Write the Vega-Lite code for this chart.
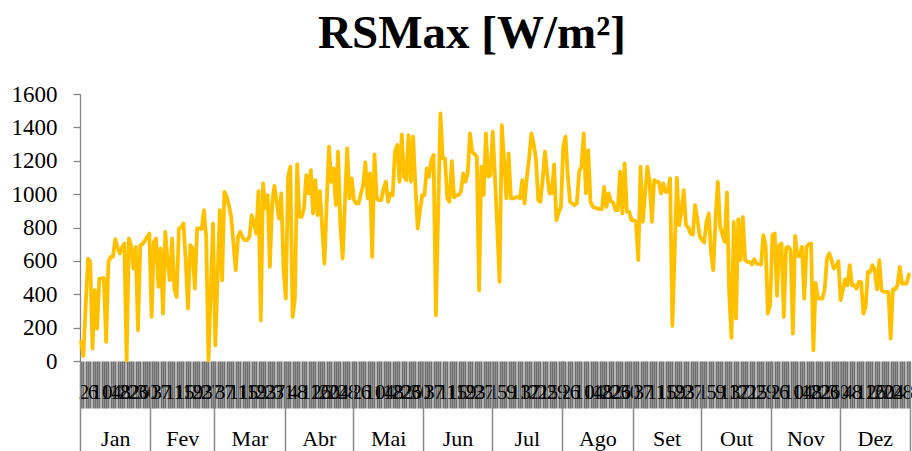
{
  "$schema": "https://vega.github.io/schema/vega-lite/v6.json",
  "width": 830,
  "height": 267,
  "autosize": {"type": "none"},
  "padding": {"left": 80, "top": 94, "right": 2, "bottom": 90},
  "background": "white",
  "config": {"view": {"stroke": null}, "font": "Liberation Serif"},
  "title": {"text": "RSMax [W/m²]", "font": "Liberation Serif", "fontSize": 47, "fontWeight": "bold", "color": "#000000", "anchor": "middle", "dx": -23, "offset": -12, "baseline": "alphabetic"},
  "data": {"values": [
    {"d":1,"v":114},{"d":2,"v":30},{"d":3,"v":330},{"d":4,"v":614},{"d":5,"v":594},{"d":6,"v":74},{"d":7,"v":424},{"d":8,"v":194},{"d":9,"v":494},{"d":10,"v":494},
    {"d":11,"v":498},{"d":12,"v":114},{"d":13,"v":594},{"d":14,"v":624},{"d":15,"v":624},{"d":16,"v":730},{"d":17,"v":680},{"d":18,"v":644},{"d":19,"v":680},{"d":20,"v":704},
    {"d":21,"v":4},{"d":22,"v":734},{"d":23,"v":690},{"d":24,"v":554},{"d":25,"v":684},{"d":26,"v":184},{"d":27,"v":694},{"d":28,"v":700},{"d":29,"v":720},{"d":30,"v":744},
    {"d":31,"v":764},{"d":32,"v":264},{"d":33,"v":714},{"d":34,"v":734},{"d":35,"v":444},{"d":36,"v":674},{"d":37,"v":284},{"d":38,"v":774},{"d":39,"v":600},{"d":40,"v":484},
    {"d":41,"v":734},{"d":42,"v":434},{"d":43,"v":384},{"d":44,"v":794},{"d":45,"v":800},{"d":46,"v":824},{"d":47,"v":600},{"d":48,"v":314},{"d":49,"v":694},{"d":50,"v":674},
    {"d":51,"v":434},{"d":52,"v":794},{"d":53,"v":794},{"d":54,"v":790},{"d":55,"v":904},{"d":56,"v":744},{"d":57,"v":4},{"d":58,"v":420},{"d":59,"v":824},{"d":60,"v":94},
    {"d":61,"v":500},{"d":62,"v":904},{"d":63,"v":484},{"d":64,"v":1014},{"d":65,"v":984},{"d":66,"v":930},{"d":67,"v":864},{"d":68,"v":700},{"d":69,"v":544},{"d":70,"v":744},
    {"d":71,"v":774},{"d":72,"v":740},{"d":73,"v":724},{"d":74,"v":724},{"d":75,"v":744},{"d":76,"v":874},{"d":77,"v":824},{"d":78,"v":764},{"d":79,"v":1018},{"d":80,"v":244},
    {"d":81,"v":1064},{"d":82,"v":914},{"d":83,"v":994},{"d":84,"v":564},{"d":85,"v":944},{"d":86,"v":1050},{"d":87,"v":950},{"d":88,"v":854},{"d":89,"v":1004},{"d":90,"v":554},
    {"d":91,"v":374},{"d":92,"v":1104},{"d":93,"v":1164},{"d":94,"v":264},{"d":95,"v":374},{"d":96,"v":1178},{"d":97,"v":864},{"d":98,"v":864},{"d":99,"v":914},{"d":100,"v":1114},
    {"d":101,"v":1004},{"d":102,"v":1144},{"d":103,"v":884},{"d":104,"v":1084},{"d":105,"v":874},{"d":106,"v":1018},{"d":107,"v":800},{"d":108,"v":584},{"d":109,"v":950},{"d":110,"v":1284},
    {"d":111,"v":1074},{"d":112,"v":1154},{"d":113,"v":934},{"d":114,"v":1254},{"d":115,"v":814},{"d":116,"v":614},{"d":117,"v":950},{"d":118,"v":1274},{"d":119,"v":974},{"d":120,"v":1094},
    {"d":121,"v":964},{"d":122,"v":944},{"d":123,"v":944},{"d":124,"v":1000},{"d":125,"v":1054},{"d":126,"v":1190},{"d":127,"v":974},{"d":128,"v":1124},{"d":129,"v":624},{"d":130,"v":1238},
    {"d":131,"v":974},{"d":132,"v":964},{"d":133,"v":964},{"d":134,"v":1034},{"d":135,"v":1074},{"d":136,"v":954},{"d":137,"v":1004},{"d":138,"v":994},{"d":139,"v":1254},{"d":140,"v":1294},
    {"d":141,"v":1074},{"d":142,"v":1358},{"d":143,"v":1104},{"d":144,"v":1084},{"d":145,"v":1354},{"d":146,"v":1074},{"d":147,"v":1344},{"d":148,"v":1050},{"d":149,"v":794},{"d":150,"v":900},
    {"d":151,"v":994},{"d":152,"v":994},{"d":153,"v":1154},{"d":154,"v":1104},{"d":155,"v":1204},{"d":156,"v":1234},{"d":157,"v":274},{"d":158,"v":880},{"d":159,"v":1484},{"d":160,"v":1214},
    {"d":161,"v":1214},{"d":162,"v":974},{"d":163,"v":954},{"d":164,"v":1198},{"d":165,"v":980},{"d":166,"v":994},{"d":167,"v":994},{"d":168,"v":1014},{"d":169,"v":1124},{"d":170,"v":1074},
    {"d":171,"v":1124},{"d":172,"v":1364},{"d":173,"v":1254},{"d":174,"v":1240},{"d":175,"v":1224},{"d":176,"v":424},{"d":177,"v":1164},{"d":178,"v":994},{"d":179,"v":1364},{"d":180,"v":1104},
    {"d":181,"v":1114},{"d":182,"v":1374},{"d":183,"v":1100},{"d":184,"v":800},{"d":185,"v":474},{"d":186,"v":1414},{"d":187,"v":1200},{"d":188,"v":974},{"d":189,"v":1244},{"d":190,"v":974},
    {"d":191,"v":974},{"d":192,"v":980},{"d":193,"v":984},{"d":194,"v":974},{"d":195,"v":1084},{"d":196,"v":944},{"d":197,"v":1100},{"d":198,"v":1214},{"d":199,"v":1364},{"d":200,"v":1300},
    {"d":201,"v":1214},{"d":202,"v":964},{"d":203,"v":954},{"d":204,"v":1100},{"d":205,"v":1254},{"d":206,"v":1114},{"d":207,"v":1004},{"d":208,"v":1004},{"d":209,"v":1178},{"d":210,"v":844},
    {"d":211,"v":890},{"d":212,"v":924},{"d":213,"v":1284},{"d":214,"v":1344},{"d":215,"v":1114},{"d":216,"v":954},{"d":217,"v":944},{"d":218,"v":934},{"d":219,"v":944},{"d":220,"v":1134},
    {"d":221,"v":1164},{"d":222,"v":1364},{"d":223,"v":1004},{"d":224,"v":1264},{"d":225,"v":954},{"d":226,"v":924},{"d":227,"v":920},{"d":228,"v":914},{"d":229,"v":910},{"d":230,"v":910},
    {"d":231,"v":1044},{"d":232,"v":924},{"d":233,"v":1004},{"d":234,"v":954},{"d":235,"v":950},{"d":236,"v":904},{"d":237,"v":904},{"d":238,"v":1134},{"d":239,"v":884},{"d":240,"v":1184},
    {"d":241,"v":894},{"d":242,"v":894},{"d":243,"v":844},{"d":244,"v":844},{"d":245,"v":834},{"d":246,"v":604},{"d":247,"v":1164},{"d":248,"v":834},{"d":249,"v":1000},{"d":250,"v":1164},
    {"d":251,"v":1074},{"d":252,"v":834},{"d":253,"v":1084},{"d":254,"v":1074},{"d":255,"v":1074},{"d":256,"v":1004},{"d":257,"v":1064},{"d":258,"v":1014},{"d":259,"v":1014},{"d":260,"v":1094},
    {"d":261,"v":210},{"d":262,"v":650},{"d":263,"v":1098},{"d":264,"v":814},{"d":265,"v":900},{"d":266,"v":1024},{"d":267,"v":814},{"d":268,"v":800},{"d":269,"v":764},{"d":270,"v":758},
    {"d":271,"v":934},{"d":272,"v":850},{"d":273,"v":750},{"d":274,"v":724},{"d":275,"v":710},{"d":276,"v":834},{"d":277,"v":884},{"d":278,"v":650},{"d":279,"v":544},{"d":280,"v":858},
    {"d":281,"v":1074},{"d":282,"v":804},{"d":283,"v":760},{"d":284,"v":714},{"d":285,"v":1010},{"d":286,"v":400},{"d":287,"v":138},{"d":288,"v":834},{"d":289,"v":254},{"d":290,"v":850},
    {"d":291,"v":604},{"d":292,"v":864},{"d":293,"v":604},{"d":294,"v":594},{"d":295,"v":594},{"d":296,"v":578},{"d":297,"v":610},{"d":298,"v":584},{"d":299,"v":580},{"d":300,"v":578},
    {"d":301,"v":754},{"d":302,"v":694},{"d":303,"v":284},{"d":304,"v":334},{"d":305,"v":754},{"d":306,"v":764},{"d":307,"v":390},{"d":308,"v":694},{"d":309,"v":704},{"d":310,"v":264},
    {"d":311,"v":678},{"d":312,"v":684},{"d":313,"v":664},{"d":314,"v":164},{"d":315,"v":750},{"d":316,"v":630},{"d":317,"v":630},{"d":318,"v":684},{"d":319,"v":374},{"d":320,"v":684},
    {"d":321,"v":700},{"d":322,"v":704},{"d":323,"v":64},{"d":324,"v":468},{"d":325,"v":374},{"d":326,"v":374},{"d":327,"v":374},{"d":328,"v":434},{"d":329,"v":614},{"d":330,"v":644},
    {"d":331,"v":604},{"d":332,"v":554},{"d":333,"v":570},{"d":334,"v":598},{"d":335,"v":364},{"d":336,"v":430},{"d":337,"v":490},{"d":338,"v":454},{"d":339,"v":574},{"d":340,"v":454},
    {"d":341,"v":454},{"d":342,"v":434},{"d":343,"v":474},{"d":344,"v":474},{"d":345,"v":284},{"d":346,"v":324},{"d":347,"v":534},{"d":348,"v":534},{"d":349,"v":574},{"d":350,"v":544},
    {"d":351,"v":430},{"d":352,"v":604},{"d":353,"v":424},{"d":354,"v":414},{"d":355,"v":414},{"d":356,"v":414},{"d":357,"v":134},{"d":358,"v":430},{"d":359,"v":430},{"d":360,"v":454},
    {"d":361,"v":564},{"d":362,"v":464},{"d":363,"v":464},{"d":364,"v":464},{"d":365,"v":518}
  ]},
  "layer": [
    {
      "mark": {"type": "line", "color": "#FFC000", "strokeWidth": 3.8, "strokeJoin": "round", "strokeCap": "round"},
      "encoding": {
        "x": {"field": "d", "type": "quantitative",
          "scale": {"domain": [0.5, 365.5], "nice": false, "zero": false},
          "axis": {"orient": "bottom", "title": null, "tickCount": 365, "tickSize": 47, "tickColor": "#6e6e6e", "tickWidth": 2,
            "domain": false, "grid": false, "labelOverlap": false, "labelFlush": false, "labelBound": false,
            "labelPadding": -10, "labelBaseline": "alphabetic", "labelFont": "Liberation Serif", "labelFontSize": 21, "labelColor": "#000000",
            "labelExpr": "(datum.value - 2) % 4 == 0 ? '' + date(datetime(2021, 0, datum.value)) : ''"}},
        "y": {"field": "v", "type": "quantitative",
          "scale": {"domain": [0, 1600], "nice": false},
          "axis": {"title": null, "values": [0, 200, 400, 600, 800, 1000, 1200, 1400, 1600], "format": "d", "grid": false,
            "tickSize": 7, "tickColor": "#868686", "tickWidth": 1.3, "domainColor": "#868686", "domainWidth": 1.3,
            "labelPadding": 16, "labelFont": "Liberation Serif", "labelFontSize": 23, "labelColor": "#000000"}}
      }
    },
    {
      "mark": {"type": "rule", "strokeOpacity": 0},
      "encoding": {
        "x": {"field": "d", "type": "quantitative",
          "axis": {"orient": "bottom", "title": null, "values": [0.5, 31.5, 59.5, 90.5, 120.5, 151.5, 181.5, 212.5, 243.5, 273.5, 304.5, 334.5, 365.5],
            "tickSize": 90, "tickColor": "#8a8a8a", "tickWidth": 1.5, "labels": false, "domain": false, "grid": false}}
      }
    },
    {
      "mark": {"type": "rule", "strokeOpacity": 0},
      "encoding": {
        "x": {"field": "d", "type": "quantitative",
          "axis": {"orient": "bottom", "title": null, "values": [16, 45.5, 75, 105.5, 136, 166.5, 197, 228, 258.5, 289, 319.5, 350],
            "ticks": false, "tickSize": 0, "domain": false, "grid": false, "labelOverlap": false, "labelFlush": false, "labelBound": false,
            "labelPadding": 84, "labelBaseline": "alphabetic", "labelFont": "Liberation Serif", "labelFontSize": 22, "labelColor": "#000000",
            "labelExpr": "['Jan','Fev','Mar','Abr','Mai','Jun','Jul','Ago','Set','Out','Nov','Dez'][month(datetime(2021, 0, datum.value))]"}}
      }
    }
  ],
  "resolve": {"axis": {"x": "independent"}}
}
